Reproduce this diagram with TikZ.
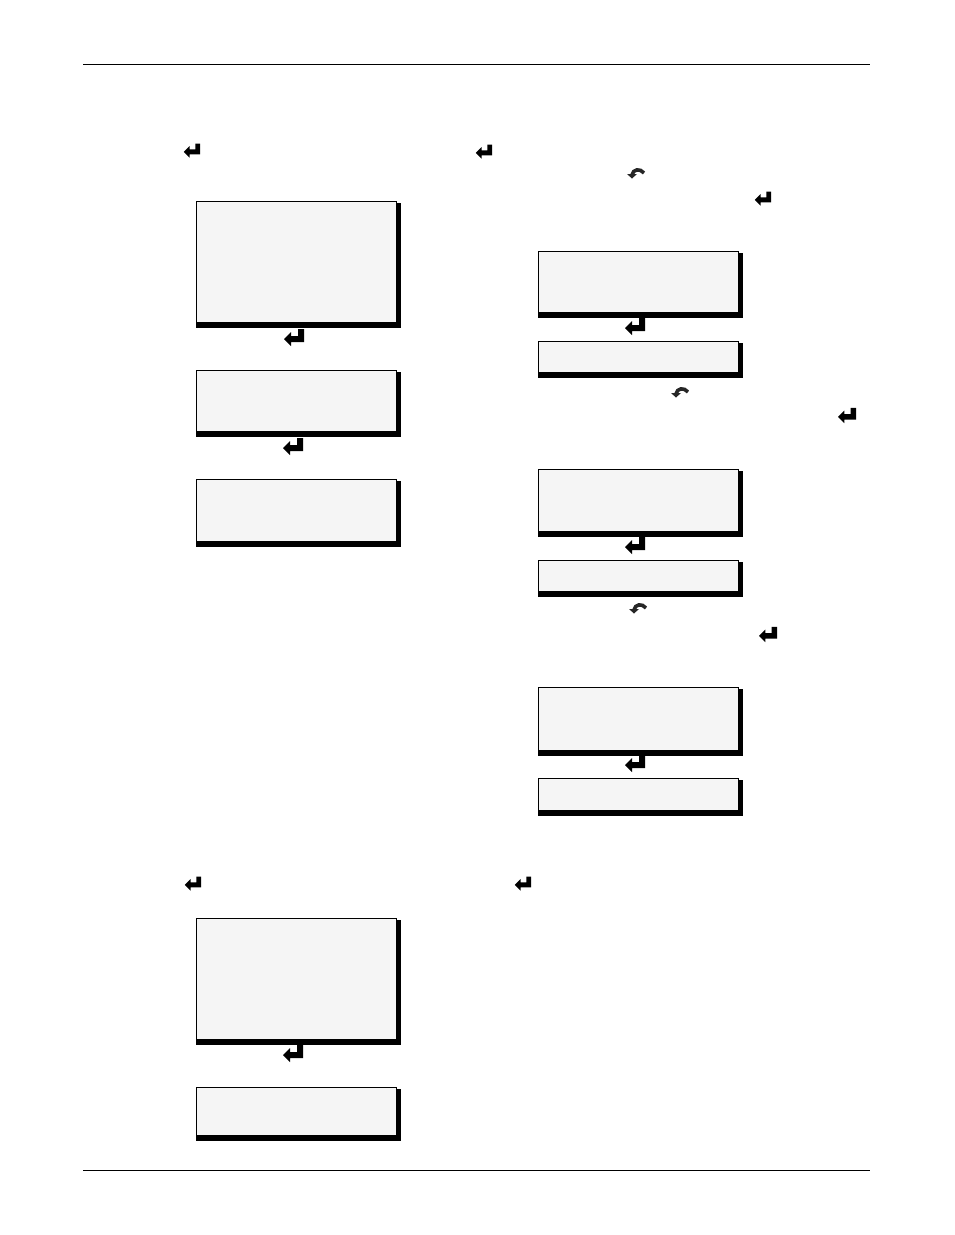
\documentclass[tikz,border=0pt]{standalone}
\usetikzlibrary{calc}
\definecolor{lcdfill}{HTML}{F5F5F5}
\newcommand\lcdshadow[1]{%
  \fill[black] ($(#1.north east)+(-0.5,1.5)$) rectangle ($(#1.south east)+(5,5.5)$);
  \fill[black] ($(#1.south west)+(-0.5,-0.5)$) rectangle ($(#1.south east)+(5,5.5)$);}
\begin{document}
\begin{tikzpicture}[x=1pt,y=-1pt,
  lcd/.style={draw=black, line width=1pt, fill=lcdfill, inner sep=0pt, outer sep=0pt,
     anchor=north west, minimum width=200pt},
  ret/.pic={\fill[black] (-10,1) -- (-3,-6) -- (-3,-2) -- (4,-2) -- (4,-9) -- (10,-9) -- (10,4) -- (-3,4) -- (-3,8) -- cycle;},
  curv/.pic={\draw[black!85, line width=3.6pt] (-4,3) .. controls (-3,-3) and (4,-4) .. (8,1);
             \fill[black!85] (-9,2) -- (1,2) -- (-4,6.5) -- cycle;},
  rule/.style={line width=1pt}
]
\useasboundingbox (0,0) rectangle (954,1235);
% header and footer rules
\coordinate (tl) at (83,64.5); \coordinate (tr) at (870,64.5);
\coordinate (bl) at (83,1170.5); \coordinate (br) at (870,1170.5);
\draw[rule] (tl) -- (tr);
\draw[rule] (bl) -- (br);

% left column
\node[lcd, minimum height=121pt] (b1) at (196,201) {};
\node[lcd, minimum height=61pt] (b2) at (196,370) {};
\node[lcd, minimum height=62pt] (b3) at (196,479) {};
\node[lcd, minimum height=121pt] (b4) at (196,918) {};
\node[lcd, minimum height=48pt] (b5) at (196,1087) {};

% right column
\node[lcd, minimum height=61pt] (r1) at (538,251) {};
\node[lcd, minimum height=31pt] (r2) at (538,341.5) {};
\node[lcd, minimum height=62pt] (r3) at (538,469) {};
\node[lcd, minimum height=31.5pt] (r4) at (538,560) {};
\node[lcd, minimum height=63pt] (r5) at (538,687) {};
\node[lcd, minimum height=32pt] (r6) at (538,778) {};

\foreach \n in {b1,b2,b3,b4,b5,r1,r2,r3,r4,r5,r6} {\lcdshadow{\n}}

% return-key icons
\pic[scale=0.82] at (192,151) {ret};
\pic[scale=0.82] at (484,152) {ret};
\pic[scale=0.82] at (763,199) {ret};
\pic at (294,338) {ret};
\pic at (293,447) {ret};
\pic at (635,327) {ret};
\pic[scale=0.9] at (847,416) {ret};
\pic at (635,546) {ret};
\pic[scale=0.9] at (768,635) {ret};
\pic at (635,764) {ret};
\pic[scale=0.82] at (193,884) {ret};
\pic[scale=0.82] at (523,884) {ret};
\pic at (293,1054) {ret};

% curved icons
\pic at (636,172) {curv};
\pic at (680,391) {curv};
\pic at (638,607) {curv};
\end{tikzpicture}
\end{document}
